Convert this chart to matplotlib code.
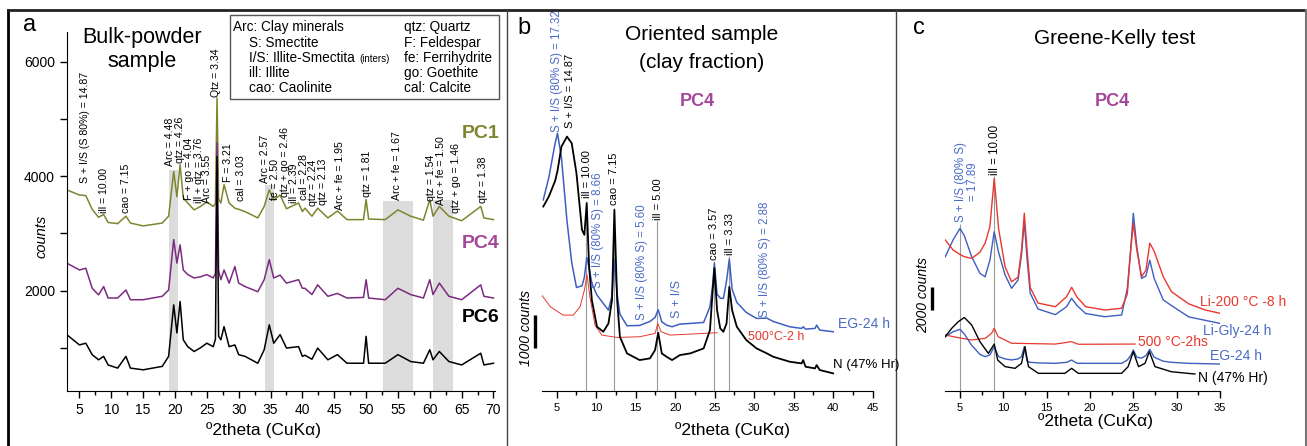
import matplotlib.pyplot as plt
from matplotlib.lines import Line2D
from matplotlib.patches import Rectangle
from matplotlib.ticker import MultipleLocator

plt.rcParams['font.family'] = ['Liberation Sans', 'DejaVu Sans']

# ---------------- data ----------------
# panel a: bulk powder, shared 2theta grid
a_theta = [3, 5, 6, 7, 8, 8.8, 9.5, 11, 12.3, 13, 15, 18, 19, 19.8, 20.3, 20.8, 21.3, 22, 23, 24,
           25, 26, 26.35, 26.6, 26.85, 27.2, 27.7, 28.5, 29.4, 30, 31, 33, 34, 34.8, 35.5, 36.5, 37.5,
           39.4, 40, 40.4, 41.5, 42.4, 44, 45.5, 47, 49.6, 50, 50.4, 53, 55, 57, 59, 60, 60.5, 61.5,
           63, 65, 68, 68.5, 70]
pc1 = [3760, 3670, 3660, 3420, 3280, 3330, 3190, 3170, 3300, 3180, 3130, 3180, 3300, 4080, 3640,
       4200, 3620, 3530, 3410, 3470, 3550, 3470, 3520, 5370, 3600, 3530, 3850, 3530, 3440, 3420,
       3380, 3270, 3470, 3760, 3580, 3670, 3430, 3530, 3380, 3440, 3300, 3440, 3270, 3390, 3240,
       3240, 3590, 3250, 3240, 3410, 3300, 3230, 3590, 3300, 3470, 3300, 3220, 3470, 3270, 3240]
pc4 = [2480, 2360, 2390, 2040, 1925, 2070, 1870, 1870, 2010, 1840, 1840, 1900, 2010, 2890, 2480,
       2800, 2360, 2280, 2220, 2240, 2280, 2220, 2300, 4580, 2350, 2190, 2360, 2130, 2420, 2130,
       2070, 1980, 2190, 2540, 2220, 2270, 2130, 2190, 2040, 2040, 1930, 2100, 1900, 1950, 1870,
       1880, 2190, 1870, 1840, 2040, 1930, 1870, 2190, 1930, 2130, 1900, 1840, 2100, 1900, 1870]
pc6 = [1230, 1050, 1080, 880, 790, 850, 700, 645, 850, 645, 615, 675, 850, 1750, 1260,
       1810, 1140, 1020, 935, 1000, 1080, 1020, 1150, 4340, 1200, 1140, 1370, 1020, 1050, 880,
       850, 730, 965, 1400, 1080, 1230, 995, 1020, 850, 870, 800, 995, 790, 880, 730,
       730, 1200, 730, 730, 880, 760, 730, 965, 790, 935, 760, 700, 905, 700, 730]
a_bands = [(19.1, 20.4, 4100), (34.2, 35.6, 3850), (52.6, 57.4, 3570), (60.5, 63.6, 3590)]
a_peaks = ['S + I/S (S 80%) = 14.87', 'ill = 10.00', 'cao = 7.15', 'Arc = 4.48', 'qtz = 4.26',
           'F + go = 4.04', 'ill + qtz = 3.76', 'Arc = 3.55', 'Qtz = 3.34', 'F = 3.21', 'cal = 3.03',
           'Arc = 2.57', 'fe = 2.50', 'qtz + go = 2.46', 'ill = 2.39', 'cal = 2.28', 'qtz = 2.24',
           'qtz = 2.13', 'Arc + fe = 1.95', 'qtz = 1.81', 'Arc + fe = 1.67', 'qtz = 1.54',
           'Arc + fe = 1.50', 'qtz + go = 1.46', 'qtz = 1.38']
a_peak_pos = [(5.9, 3880), (8.9, 3350), (12.3, 3350), (19.2, 4170), (20.8, 4230), (22.2, 3585),
              (23.8, 3530), (25.1, 3530), (26.5, 5390), (28.3, 3900), (30.3, 3560), (34.2, 3880),
              (35.7, 3585), (37.2, 3640), (38.7, 3530), (40.2, 3585), (41.7, 3470), (43.2, 3500),
              (45.9, 3410), (50.1, 3640), (54.8, 3585), (60.2, 3560), (61.7, 3500), (64.1, 3350),
              (68.3, 3530)]

# panel b: oriented sample
b_theta = [3.3, 4.0, 4.8, 5.1, 5.6, 6.3, 6.9, 7.5, 8.2, 8.5, 8.8, 9.1, 9.45, 10.1, 10.9, 11.55, 12.0,
           12.3, 12.65, 13.0, 13.9, 15.5, 16.8, 17.45, 17.85, 18.3, 18.9, 19.6, 20.6, 21.9, 23.6,
           24.4, 24.75, 24.96, 25.3, 25.7, 26.1, 26.5, 26.85, 27.2, 27.8, 29.0, 30.3, 31.6, 32.4,
           34.5, 36.0, 36.2, 36.5, 37.7, 37.9, 38.3, 40.0]
b_natural = [5530, 5830, 6300, 6600, 7330, 7630, 7430, 6530, 4830, 4680, 5630, 3720, 2720, 1920,
             1770, 2020, 2720, 5430, 2720, 1620, 1120, 920, 970, 1220, 1740, 1120, 1020, 920, 1070,
             1120, 1270, 1820, 3020, 3680, 2420, 1870, 1770, 2020, 3120, 2420, 1920, 1520, 1270,
             1120, 1020, 870, 820, 920, 720, 670, 770, 620, 520]
b_eg = [5730, 6400, 7430, 7730, 7000, 5100, 3850, 3100, 3150, 3400, 4000, 3700, 3220, 2870, 2620,
        2420, 2850, 3930, 2900, 2300, 1950, 1960, 2080, 2200, 2430, 2070, 1970, 1920, 2000, 2020,
        2050, 2520, 3200, 3830, 2900, 2780, 2770, 3300, 3950, 3050, 2650, 2350, 2170, 2180, 2080,
        1920, 1870, 1920, 1850, 1870, 1970, 1820, 1770]
b_heat_theta = [3.1, 4.2, 5.8, 7.1, 7.95, 8.5, 8.84, 9.2, 9.85, 10.7, 12.6, 15.5, 17.45, 17.8, 18.2,
                19.35, 21.9, 25.3]
b_heat = [2870, 2520, 2270, 2270, 2520, 3020, 3480, 2820, 1970, 1670, 1600, 1620, 1720, 2020, 1770,
          1670, 1700, 1740]
b_lines = [(8.76, 5700), (12.3, 5500), (17.7, 5100), (24.96, 3900), (26.82, 4050)]

# panel c: Greene-Kelly test
c_theta = [3.3, 4.2, 5.0, 5.5, 6.35, 7.3, 7.9, 8.45, 8.95, 9.45, 10.2, 10.95, 11.7, 12.1, 12.42,
           12.75, 13.1, 14.0, 16.0, 17.3, 17.88, 18.5, 19.5, 21.7, 23.65, 24.3, 24.7, 25.0, 25.4,
           25.95, 26.45, 26.9, 27.4, 28.45, 29.4, 31.4, 33.3, 35.0]
c_li200 = [13280, 12400, 12000, 11800, 11660, 12200, 13000, 14450, 18700, 14300, 10920, 9600, 10000,
           12400, 15630, 12300, 9100, 7720, 7400, 8280, 9110, 8250, 7400, 7110, 7260, 8500, 12400,
           14750, 12400, 10040, 10600, 13000, 12300, 10040, 8720, 7650, 7110, 6820]
c_ligly = [11800, 13280, 14300, 13650, 11800, 10340, 10040, 11500, 14000, 12200, 10200, 9020, 9750,
           12000, 14890, 11500, 8600, 7200, 6700, 7400, 8140, 7500, 6800, 6520, 6670, 9000, 12500,
           15630, 12700, 9900, 10100, 11500, 9900, 8000, 7500, 6500, 6200, 5930]
c_eg = [4760, 5200, 5400, 5000, 4000, 3200, 3000, 3150, 3880, 3000, 2800, 2710, 2800, 3000, 3880,
        2600, 2500, 2450, 2410, 2500, 2700, 2420, 2410, 2410, 2410, 2700, 3100, 3590, 2950, 2870,
        3100, 3650, 2950, 2600, 2500, 2410, 2380, 2350]
c_heat_theta = [3.3, 4.8, 6.35, 7.9, 8.65, 8.95, 9.4, 10.95, 16.0, 17.88, 18.65, 25.2]
c_heat = [4910, 4670, 4470, 4610, 5060, 5500, 4760, 4180, 4110, 4320, 4090, 4110]
c_nat_theta = [3.3, 4.05, 4.8, 5.5, 6.35, 7.3, 8.27, 8.95, 9.35, 10.2, 11.35, 12.1, 12.5, 12.9,
               14.05, 17.1, 17.88, 18.65, 23.65, 24.4, 25.0, 25.6, 26.35, 26.85, 27.5, 29.4, 32.1]
c_natural = [4760, 5500, 6080, 6450, 5790, 4320, 3290, 4110, 2700, 2120, 1970, 2410, 3880, 2120,
             1530, 1530, 1970, 1530, 1530, 2120, 3440, 2120, 2410, 3440, 2120, 1670, 1470]
c_lines = [(5.0, 14700), (8.95, 18900)]

# ---------------- figure ----------------
W, H = 1307, 446
fig = plt.figure(figsize=(W / 100, H / 100), dpi=100)


def fx(x):
    return x / W


def fy(y):
    return 1 - y / H


OLIVE = '#7f852f'
PURPLE = '#7a2b80'
MAGENTA = '#a4479a'
BLUE = '#3d5fbf'
RED = '#e8382e'
LABBLUE = '#4a6bc6'

# ---- panel a
ax = fig.add_axes([fx(66.7), fy(390.7), (495.4 - 66.7) / W, (390.7 - 32) / H])
ax.set_xlim(3, 70.3)
ax.set_ylim(250, 6519)
for x0, x1, top in a_bands:
    ax.fill_between([x0, x1], 250, top, color='#dcdcdc', lw=0, zorder=0)
ax.plot(a_theta, pc1, color=OLIVE, lw=1.1)
ax.plot(a_theta, pc4, color=PURPLE, lw=1.1)
ax.plot(a_theta, pc6, color='black', lw=1.1)
for txt, (x, y) in zip(a_peaks, a_peak_pos):
    ax.text(x, y, txt, rotation=90, ha='center', va='bottom', fontsize=7.6)
ax.spines['top'].set_visible(False)
ax.spines['right'].set_visible(False)
ax.set_xticks(range(5, 71, 5))
ax.xaxis.set_minor_locator(MultipleLocator(2.5))
ax.set_yticks([1000, 2000, 3000, 4000, 5000, 6000], ['', '2000', '', '4000', '', '6000'])
ax.tick_params(direction='out', length=5, width=1, labelsize=10)
ax.tick_params(which='minor', direction='out', length=3, width=1)
ax.text(-0.9, 2940, 'counts', rotation=90, style='italic', fontsize=10.5, ha='center', va='center')

fig.text(fx(23), fy(25), 'a', fontsize=17, va='center')
fig.text(fx(142), fy(37), 'Bulk-powder', fontsize=15.5, ha='center', va='center')
fig.text(fx(142), fy(62), 'sample', fontsize=15.5, ha='center', va='center')
fig.text(fx(462), fy(133), 'PC1', color=OLIVE, fontsize=14, fontweight='bold', va='center')
fig.text(fx(462), fy(243), 'PC4', color=MAGENTA, fontsize=14, fontweight='bold', va='center')
fig.text(fx(462), fy(317), 'PC6', color='black', fontsize=14, fontweight='bold', va='center')
fig.text(fx(263), fy(430), 'º2theta (CuKα)', fontsize=12.5, ha='center', va='center')

# legend box
fig.add_artist(Rectangle((fx(230), fy(99)), (499 - 230) / W, (99 - 15) / H,
                         transform=fig.transFigure, fill=False, ec='#555555', lw=1))
leg_left = [(233, 26.7, 'Arc: Clay minerals'), (249, 42.7, 'S: Smectite'),
            (249, 58.3, 'I/S: Illite-Smectita'), (249, 73.3, 'ill: Illite'),
            (249, 88.3, 'cao: Caolinite')]
leg_right = ['qtz: Quartz', 'F: Feldespar', 'fe: Ferrihydrite', 'go: Goethite', 'cal: Calcite']
for (x, y, t), t2 in zip(leg_left, leg_right):
    fig.text(fx(x), fy(y), t, fontsize=9.8, va='center')
    fig.text(fx(404), fy(y), t2, fontsize=9.8, va='center')
fig.text(fx(359), fy(59.5), '(inters)', fontsize=7, va='center')

# ---- panel b
bx = fig.add_axes([fx(541.7), fy(390.7), (872.7 - 541.7) / W, (390.7 - 12) / H])
bx.set_xlim(3.1, 45)
bx.set_ylim(0, 11372)
bx.vlines([v[0] for v in b_lines], 0, [v[1] for v in b_lines], color='#9a9a9a', lw=0.8)
bx.plot(b_heat_theta, b_heat, color=RED, lw=0.7)
bx.plot(b_theta, b_eg, color=BLUE, lw=1.1)
bx.plot(b_theta, b_natural, color='black', lw=1.3)
for s in ['top', 'right', 'left']:
    bx.spines[s].set_visible(False)
bx.set_yticks([])
bx.set_xticks(range(5, 46, 5))
bx.xaxis.set_minor_locator(MultipleLocator(2.5))
bx.tick_params(direction='out', length=5, width=1, labelsize=8)
bx.tick_params(which='minor', direction='out', length=3, width=1)
bx.plot([2.25, 2.25], [1273, 2273], color='black', lw=2.4, clip_on=False, solid_capstyle='butt')
bx.text(1.1, 1883, '1000 counts', rotation=90, style='italic', fontsize=10,
        ha='center', va='center')
b_blue_labels = [(5.0, 7780, 'S + I/S (80% S) = 17.32'), (10.27, 3075, 'S + I/S (80% S) = 8.66'),
                 (15.76, 2123, 'S + I/S (80% S) = 5.60'), (20.2, 2174, 'S + I/S'),
                 (31.37, 2222, 'S + I/S (80% S) = 2.88')]
b_black_labels = [(6.69, 7890, 'S + I/S = 14.87'), (8.8, 5790, 'ill = 10.00'),
                  (12.3, 5577, 'cao = 7.15'), (17.87, 5126, 'ill = 5.00'),
                  (24.9, 3925, 'cao = 3.57'), (26.9, 4075, 'ill = 3.33')]
for x, y, t in b_blue_labels:
    bx.text(x, y, t, rotation=90, ha='center', va='bottom', fontsize=9 if t == 'S + I/S' else 8.3,
            color=LABBLUE)
for x, y, t in b_black_labels:
    bx.text(x, y, t, rotation=90, ha='center', va='bottom', fontsize=8)
fig.text(fx(838), fy(324), 'EG-24 h', color=LABBLUE, fontsize=10, va='center')
fig.text(fx(748), fy(337), '500°C-2 h', color=RED, fontsize=9, va='center')
fig.text(fx(833), fy(365), 'N (47% Hr)', color='black', fontsize=9.5, va='center')
fig.text(fx(517), fy(28), 'b', fontsize=17, va='center')
fig.text(fx(702), fy(35), 'Oriented sample', fontsize=15, ha='center', va='center')
fig.text(fx(702), fy(62), '(clay fraction)', fontsize=15, ha='center', va='center')
fig.text(fx(697), fy(102), 'PC4', color=MAGENTA, fontsize=13, fontweight='bold',
         ha='center', va='center')
fig.text(fx(733), fy(430), 'º2theta (CuKα)', fontsize=12.5, ha='center', va='center')

# ---- panel c
cx = fig.add_axes([fx(945), fy(390.7), (1220 - 945) / W, (390.7 - 12) / H])
cx.set_xlim(3.27, 35)
cx.set_ylim(0, 33364)
cx.vlines([v[0] for v in c_lines], 0, [v[1] for v in c_lines], color='#9a9a9a', lw=0.8)
cx.plot(c_theta, c_ligly, color=BLUE, lw=1.0)
cx.plot(c_theta, c_li200, color=RED, lw=1.0)
cx.plot(c_heat_theta, c_heat, color=RED, lw=0.9)
cx.plot(c_theta, c_eg, color=BLUE, lw=1.0)
cx.plot(c_nat_theta, c_natural, color='black', lw=1.0)
for s in ['top', 'right', 'left']:
    cx.spines[s].set_visible(False)
cx.set_yticks([])
cx.set_xticks(range(5, 36, 5))
cx.xaxis.set_minor_locator(MultipleLocator(2.5))
cx.tick_params(direction='out', length=5, width=1, labelsize=8)
cx.tick_params(which='minor', direction='out', length=3, width=1)
cx.plot([1.73, 1.73], [7110, 9110], color='black', lw=2.4, clip_on=False, solid_capstyle='butt')
cx.text(0.7, 8430, '2000 counts', rotation=90, style='italic', fontsize=10,
        ha='center', va='center')
cx.text(5.8, 14890, 'S + I/S (80% S)\n= 17.89', rotation=90, ha='center', va='bottom',
        fontsize=8.3, color=LABBLUE, multialignment='center', linespacing=1.0)
cx.text(9.04, 19000, 'ill = 10.00', rotation=90, ha='center', va='bottom', fontsize=8.3)
fig.text(fx(1200), fy(302), 'Li-200 °C -8 h', color=RED, fontsize=10, va='center')
fig.text(fx(1203), fy(331), 'Li-Gly-24 h', color=LABBLUE, fontsize=10, va='center')
fig.text(fx(1138), fy(342), '500 °C-2hs', color=RED, fontsize=10, va='center')
fig.text(fx(1210), fy(356), 'EG-24 h', color=LABBLUE, fontsize=10, va='center')
fig.text(fx(1198), fy(378), 'N (47% Hr)', color='black', fontsize=10, va='center')
fig.text(fx(913), fy(28), 'c', fontsize=17, va='center')
fig.text(fx(1115), fy(38), 'Greene-Kelly test', fontsize=15, ha='center', va='center')
fig.text(fx(1112), fy(102), 'PC4', color=MAGENTA, fontsize=13, fontweight='bold',
         ha='center', va='center')
fig.text(fx(1095), fy(421), 'º2theta (CuKα)', fontsize=12.5, ha='center', va='center')

# ---- frame lines
fig.add_artist(Line2D([fx(8), fx(8)], [fy(10), 0], transform=fig.transFigure, color='black', lw=2))
fig.add_artist(Line2D([fx(8), fx(1306)], [fy(10), fy(10)], transform=fig.transFigure,
                      color='#222222', lw=2))
for xs in [506.7, 895.7]:
    fig.add_artist(Line2D([fx(xs), fx(xs)], [fy(10), 0], transform=fig.transFigure,
                          color='#444444', lw=1))
fig.add_artist(Line2D([fx(1305.5), fx(1305.5)], [fy(10), 0], transform=fig.transFigure,
                      color='#777777', lw=1.5))

fig.savefig('out.png', dpi=100)
